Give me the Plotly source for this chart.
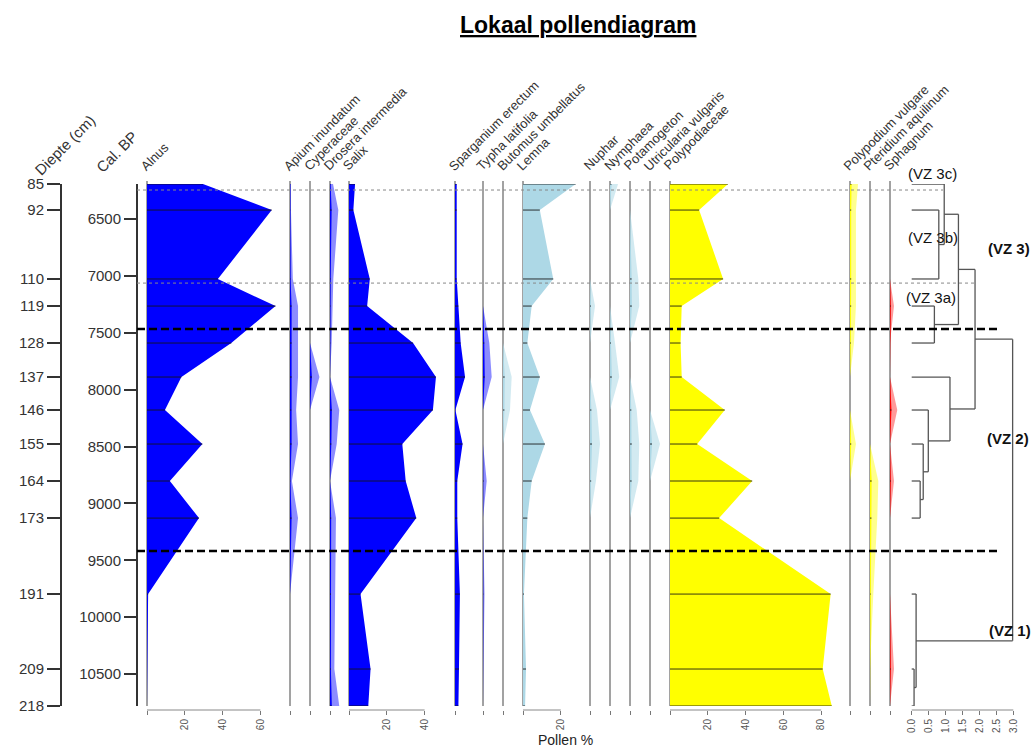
import plotly.graph_objects as go

W, H = 1035, 747

# ---- sample depths and calibrated ages ----
depth_cm = [85, 92, 110, 119, 128, 137, 146, 155, 164, 173, 191, 209, 218]
cal_bp = [6192, 6421, 7027, 7265, 7590, 7889, 8179, 8478, 8803, 9129, 9797, 10456, 10781]
cal_ticks = [6500, 7000, 7500, 8000, 8500, 9000, 9500, 10000, 10500]

# ---- pollen / spore percentages per sample ----
alnus = [29.6, 66, 37.5, 68, 44.6, 18.2, 9.5, 29.3, 12.1, 27.5, 0.6, 0, 0]
apium = [0.1, 0.1, 0.3, 0.85, 0.85, 0.85, 0.65, 0.85, 0.2, 0.85, 0, 0, 0]
cyperaceae = [0, 0, 0, 0, 0, 1.0, 0, 0, 0, 0, 0, 0, 0]
drosera = [0.32, 0.88, 0.35, 0.29, 0.18, 0, 0.98, 0.71, 0, 0.63, 0.53, 0.46, 0.98]
salix = [3.2, 2.3, 11, 9.6, 33.9, 46, 44.4, 28.2, 30, 35.6, 6.1, 11.4, 10.2]
sparganium = [0.9, 0.9, 0.9, 1.8, 3.0, 5.3, 0.2, 4.0, 1.2, 1.2, 2.6, 2.1, 1.8]
typha = [0, 0, 0, 0, 0.67, 0.92, 0, 0, 0.39, 0, 0.16, 0, 0]
butomus = [0, 0, 0, 0, 0, 0.92, 0.74, 0, 0, 0, 0, 0, 0]
lemna = [27.9, 8.9, 16, 4.6, 2.3, 8.9, 3.7, 11.6, 4.6, 2.3, 0.5, 1.6, 1.1]
nuphar = [0, 0, 0, 0.53, 0, 0, 0.74, 1.06, 0.63, 0, 0, 0, 0]
nymphaea = [0.85, 0, 0, 0, 0.53, 0.98, 0, 0, 0, 0, 0, 0, 0]
potamogeton = [0, 0, 0.88, 0.98, 0, 0, 0.71, 0.98, 0.88, 0, 0, 0, 0]
utricularia = [0, 0, 0, 0, 0, 0, 0, 1.06, 0, 0, 0, 0, 0]
polypodiaceae = [30.7, 15.4, 28.1, 6.2, 5.6, 6.2, 29, 14.4, 43.5, 26, 85, 80.8, 85.6]
polypodium = [0.85, 0.63, 0.63, 0.63, 0.42, 0, 0, 0.63, 0, 0, 0, 0, 0]
pteridium = [0, 0, 0, 0, 0, 0, 0, 0, 0.88, 0.77, 0.35, 0, 0]
sphagnum = [0, 0, 0, 0.42, 0, 0, 0.77, 0, 0.42, 0, 0, 0.42, 0]

# ---- CONISS dendrogram: (child a, child b, total sum of squares) ----
# leaves are sample indices 0..12, new nodes numbered from 13 upward
coniss_merges = [
    (1, 2, 0.80), (0, 13, 0.96), (3, 4, 0.67), (14, 15, 1.38),
    (8, 9, 0.25), (7, 17, 0.34), (6, 18, 0.49), (5, 19, 1.13),
    (16, 20, 1.87), (11, 12, 0.07), (10, 22, 0.13), (21, 23, 2.98),
]
coniss_ticks = [0.0, 0.5, 1.0, 1.5, 2.0, 2.5, 3.0]

# ---- zone boundaries (cal BP) ----
major_zones = [7467, 9419]
minor_zones = [6245, 7063]

# ---- layout helpers (pixel geometry) ----
PX_PER_PCT = 1.89
EXAG = 5
Y_TOP, Y_BOT = 184, 706
AXIS_Y = 710
FONT = "Liberation Sans, Arial"


def fx(px):
    return px / W


def fy(px):
    return 1 - px / H


palettes = {
    "blue": ("#0000FF", "rgba(0,0,255,0.45)"),
    "lightblue": ("#ADD8E6", "rgba(173,216,230,0.55)"),
    "yellow": ("#FFFF00", "rgba(255,255,0,0.45)"),
    "red": ("#FF0000", "rgba(255,0,0,0.4)"),
}

panels = [
    ("Alnus", alnus, 147, 133, "blue", False, [0, 20, 40, 60]),
    ("Apium inundatum", apium, 290, 20, "blue", True, [0]),
    ("Cyperaceae", cyperaceae, 310, 20, "blue", True, [0]),
    ("Drosera intermedia", drosera, 330, 19, "blue", True, [0]),
    ("Salix", salix, 349, 100, "blue", False, [0, 20, 40]),
    ("Sparganium erectum", sparganium, 455, 28, "blue", False, [0]),
    ("Typha latifolia", typha, 483, 20, "blue", True, [0]),
    ("Butomus umbellatus", butomus, 503, 20, "lightblue", True, [0]),
    ("Lemna", lemna, 523, 67, "lightblue", False, [0, 20]),
    ("Nuphar", nuphar, 590, 20, "lightblue", True, [0]),
    ("Nymphaea", nymphaea, 610, 20, "lightblue", True, [0]),
    ("Potamogeton", potamogeton, 630, 20, "lightblue", True, [0]),
    ("Utricularia vulgaris", utricularia, 650, 20, "lightblue", True, [0]),
    ("Polypodiaceae", polypodiaceae, 670, 175, "yellow", False, [0, 20, 40, 60, 80]),
    ("Polypodium vulgare", polypodium, 850, 20, "yellow", True, [0]),
    ("Pteridium aquilinum", pteridium, 870, 20, "yellow", True, [0]),
    ("Sphagnum", sphagnum, 890, 20, "red", True, [0]),
]

fig = go.Figure()
layout = {}
shapes = []
annotations = []


def label(text, x, y, size, color="#333", angle=0, xa="center", ya="middle"):
    annotations.append(dict(
        text=text, xref="paper", yref="paper", x=fx(x), y=fy(y),
        xanchor=xa, yanchor=ya, textangle=angle, showarrow=False,
        font=dict(family=FONT, size=size, color=color)))


y_domain = [fy(Y_BOT), fy(Y_TOP)]
tick_font = dict(family=FONT, size=10, color="#555")

for i, (name, vals, x0, wpx, pal, exag, ticks) in enumerate(panels):
    n = i + 1
    xa = "x" if n == 1 else f"x{n}"
    key = "xaxis" if n == 1 else f"xaxis{n}"
    main_col, exag_col = palettes[pal]

    # panel baseline
    shapes.append(dict(type="line", xref="paper", yref="paper",
                       x0=fx(x0), x1=fx(x0), y0=fy(Y_BOT), y1=fy(Y_TOP - 3),
                       line=dict(color="#707070", width=1.3), layer="below"))

    if exag:
        fig.add_trace(go.Scatter(
            x=[v * EXAG for v in vals], y=cal_bp, xaxis=xa, yaxis="y",
            mode="lines", line=dict(width=0, color=exag_col),
            fill="tozerox", fillcolor=exag_col, hoverinfo="skip", showlegend=False))
    fig.add_trace(go.Scatter(
        x=vals, y=cal_bp, xaxis=xa, yaxis="y",
        mode="lines", line=dict(width=0, color=main_col),
        fill="tozerox", fillcolor=main_col, hoverinfo="skip", showlegend=False))

    # sample bars
    bx, by = [], []
    for v, a in zip(vals, cal_bp):
        if v > 0:
            bx += [0, v, None]
            by += [a, a, None]
    if bx:
        fig.add_trace(go.Scatter(
            x=bx, y=by, xaxis=xa, yaxis="y", mode="lines",
            line=dict(color="rgba(20,20,20,0.85)", width=1),
            hoverinfo="skip", showlegend=False))

    layout[key] = dict(
        domain=[fx(x0), fx(x0 + wpx)], range=[0, wpx / PX_PER_PCT],
        anchor="free", position=fy(AXIS_Y), showgrid=False, zeroline=False,
        showline=False, ticks="outside", ticklen=4, tickwidth=1, tickcolor="#777",
        tickvals=ticks, ticktext=["" if t == 0 else str(t) for t in ticks],
        tickangle=-90, tickfont=tick_font, fixedrange=True)
    if len(ticks) > 1:
        shapes.append(dict(type="line", xref=xa, yref="paper",
                           x0=0, x1=ticks[-1], y0=fy(AXIS_Y), y1=fy(AXIS_Y),
                           line=dict(color="#888", width=1)))

    # rotated taxon name
    label(name, x0 - 12, 176, 13, angle=-45, xa="left", ya="bottom")

# ---- CONISS dendrogram panel ----
nd = len(panels) + 1
dxa = f"x{nd}"
D0, D_PER_UNIT = 911.7, 33.87
pos = list(cal_bp)
hgt = [0.0] * len(cal_bp)
sx, sy = [], []
for a, b, h in coniss_merges:
    for c in (a, b):
        sx += [hgt[c], h, None]
        sy += [pos[c], pos[c], None]
    sx += [h, h, None]
    sy += [pos[a], pos[b], None]
    pos.append((pos[a] + pos[b]) / 2)
    hgt.append(h)
fig.add_trace(go.Scatter(x=sx, y=sy, xaxis=dxa, yaxis="y", mode="lines",
                         line=dict(color="#555", width=1.3),
                         hoverinfo="skip", showlegend=False))
layout[f"xaxis{nd}"] = dict(
    domain=[fx(903), fx(1030)],
    range=[(903 - D0) / D_PER_UNIT, (1030 - D0) / D_PER_UNIT],
    anchor="free", position=fy(AXIS_Y), showgrid=False, zeroline=False,
    showline=False, ticks="outside", ticklen=4, tickcolor="#777",
    tickvals=coniss_ticks, ticktext=[f"{t:.1f}" for t in coniss_ticks],
    tickangle=-90, tickfont=tick_font, fixedrange=True)
shapes.append(dict(type="line", xref=dxa, yref="paper", x0=0, x1=3.0,
                   y0=fy(AXIS_Y), y1=fy(AXIS_Y), line=dict(color="#888", width=1)))

# depth axis carrier trace
fig.add_trace(go.Scatter(x=[0], y=[cal_bp[0]], xaxis="x", yaxis="y2",
                         mode="markers", marker=dict(opacity=0),
                         hoverinfo="skip", showlegend=False))

# ---- zone boundaries ----
for z in major_zones:
    shapes.append(dict(type="line", xref="paper", yref="y", x0=fx(137), x1=fx(998),
                       y0=z, y1=z, line=dict(color="black", width=2.5, dash="8px,4px")))
minor_ends = [943, 977]
for z, xe in zip(minor_zones, minor_ends):
    shapes.append(dict(type="line", xref="paper", yref="y", x0=fx(137), x1=fx(xe),
                       y0=z, y1=z, line=dict(color="#888", width=1, dash="3px,3px")))

# ---- text ----
label("<b><u>Lokaal pollendiagram</u></b>", 578, 25, 23, color="black")
label("Diepte (cm)", 29, 181, 15, angle=-45, xa="left", ya="bottom")
label("Cal. BP", 90, 178, 15, angle=-45, xa="left", ya="bottom")
label("Pollen %", 565, 740, 14, color="#222")

zone_labels = [
    ("(VZ 3c)", 932, 173, False), ("(VZ 3b)", 933, 238, False),
    ("(VZ 3a)", 931, 297, False), ("(VZ 3)", 1009, 249, True),
    ("(VZ 2)", 1008, 438, True), ("(VZ 1)", 1010, 630, True),
]
for t, x, y, bold in zone_labels:
    label(f"<b>{t}</b>" if bold else t, x, y, 15, color="#111")

axis_font = dict(family=FONT, size=15, color="#333")
layout["yaxis"] = dict(
    domain=y_domain, range=[cal_bp[-1], cal_bp[0]], anchor="free", position=fx(137),
    showline=True, linecolor="#333", linewidth=2, ticks="outside", ticklen=12,
    tickwidth=2, tickcolor="#333", tickvals=cal_ticks,
    ticktext=[str(t) for t in cal_ticks], tickfont=axis_font,
    showgrid=False, zeroline=False, fixedrange=True)
layout["yaxis2"] = dict(
    overlaying="y", range=[cal_bp[-1], cal_bp[0]], anchor="free", position=fx(61),
    side="left", showline=True, linecolor="#333", linewidth=2, ticks="outside",
    ticklen=13, tickwidth=2, tickcolor="#333", tickvals=cal_bp,
    ticktext=[str(d) for d in depth_cm], tickfont=axis_font,
    showgrid=False, zeroline=False, fixedrange=True)

fig.update_layout(
    width=W, height=H, margin=dict(l=0, r=0, t=0, b=0, autoexpand=False),
    paper_bgcolor="white", plot_bgcolor="rgba(0,0,0,0)",
    showlegend=False, hovermode=False,
    shapes=shapes, annotations=annotations, **layout)

fig.write_html("out.html")
